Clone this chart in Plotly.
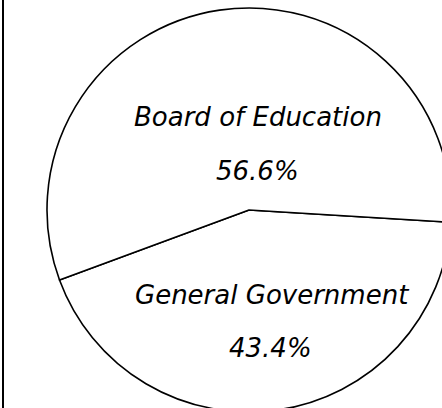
import plotly.graph_objects as go

labels = ["General Government", "Board of Education"]
values = [43.4, 56.6]
label_pos = {"Board of Education": (258, 117, 257, 171),
             "General Government": (272, 295, 270, 348)}

W, H = 500, 420
cx, cy, r = 249, 210, 202
fig = go.Figure(go.Pie(
    labels=labels, values=values, sort=False, direction="clockwise",
    rotation=93.5, textinfo="none", hoverinfo="label+percent",
    marker=dict(colors=["white", "white"], line=dict(color="black", width=1.6)),
    domain=dict(x=[(cx - r) / W, (cx + r) / W], y=[(H - cy - r) / H, (H - cy + r) / H]),
    showlegend=False,
))

font = dict(family="DejaVu Sans, Liberation Sans, Arial", size=26, color="black", style="italic")
for lab, val in zip(labels, values):
    lx, ly, vx, vy = label_pos[lab]
    fig.add_annotation(x=lx / W, y=1 - ly / H, xref="paper", yref="paper",
                       xanchor="center", yanchor="middle",
                       text=lab, showarrow=False, font=font)
    fig.add_annotation(x=vx / W, y=1 - vy / H, xref="paper", yref="paper",
                       xanchor="center", yanchor="middle",
                       text=f"{val:.1f}%", showarrow=False, font=font)

fig.add_shape(type="line", xref="paper", yref="paper", x0=3 / W, x1=3 / W, y0=0, y1=1,
              line=dict(color="black", width=2))

fig.update_layout(width=W, height=H, margin=dict(l=0, r=0, t=0, b=0),
                  paper_bgcolor="white", plot_bgcolor="white")

fig.write_html("out.html", post_script="document.body.style.overflow='hidden';document.body.style.margin='0';")
